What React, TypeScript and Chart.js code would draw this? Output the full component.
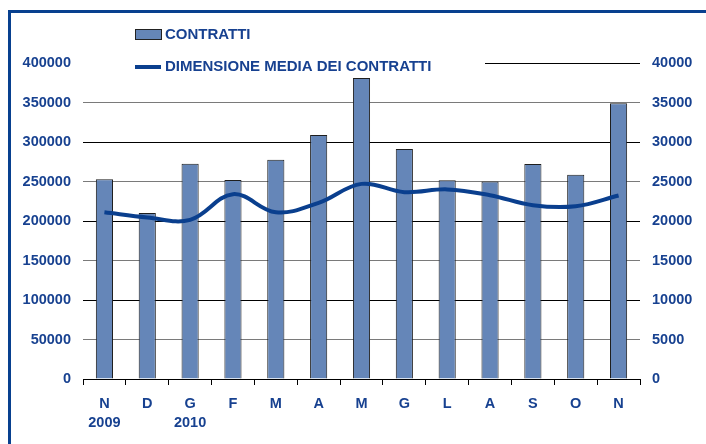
import React, { useEffect, useRef } from "react";
import { Chart, registerables } from "chart.js";

Chart.register(...registerables);

const categories: (string | string[])[] = [
  ["N", "2009"], "D", ["G", "2010"], "F", "M", "A", "M", "G", "L", "A", "S", "O", "N",
];
const contratti = [253000, 210000, 272500, 252000, 277500, 309000, 381000, 291000, 251500, 250000, 272000, 258500, 349000];
const dimensioneMedia = [21100, 20450, 20150, 23400, 21100, 22300, 24700, 23650, 24000, 23270, 22000, 21870, 23230];
const leftTicks = { min: 0, max: 400000, step: 50000 };
const rightTicks = { min: 0, max: 40000, step: 5000 };
const legendLabels = ["CONTRATTI", "DIMENSIONE MEDIA DEI CONTRATTI"];

const TEXT = "#174190";
const BAR = "#6586b8";
const LINE = "#0a3f8e";
const FONT = "'Liberation Sans', Arial, sans-serif";

export default function App() {
  const ref = useRef<HTMLCanvasElement | null>(null);

  useEffect(() => {
    if (!ref.current) return;

    const decor = {
      id: "decor",
      beforeDraw(chart: any) {
        const c = chart.ctx;
        c.save();
        c.fillStyle = "#fff";
        c.fillRect(0, 0, chart.width, chart.height);
        c.strokeStyle = "#08408f";
        c.lineWidth = 3;
        c.beginPath();
        c.moveTo(9.5, chart.height + 5);
        c.lineTo(9.5, 11.5);
        c.lineTo(chart.width + 5, 11.5);
        c.stroke();
        c.restore();
      },
      beforeDatasetsDraw(chart: any) {
        const c = chart.ctx;
        const a = chart.chartArea;
        c.save();
        c.fillStyle = "#fff";
        c.fillRect(a.left - 1, 56, 486 - a.left, 14);
        c.restore();
      },
      afterDraw(chart: any) {
        const c = chart.ctx;
        c.save();
        c.font = `bold 15px ${FONT}`;
        c.textBaseline = "middle";
        c.textAlign = "left";
        // bar item
        c.fillStyle = BAR;
        c.fillRect(135.5, 29.5, 26, 10);
        c.strokeStyle = "#222";
        c.lineWidth = 1;
        c.strokeRect(135.5, 29.5, 26, 10);
        c.fillStyle = TEXT;
        c.fillText(legendLabels[0], 165, 35);
        // line item
        c.strokeStyle = LINE;
        c.lineWidth = 4;
        c.beginPath();
        c.moveTo(135, 67);
        c.lineTo(161, 67);
        c.stroke();
        c.fillStyle = TEXT;
        c.fillText(legendLabels[1], 165, 67);
        c.restore();
      },
    };

    const chart = new Chart(ref.current, {
      type: "bar",
      data: {
        labels: categories as any,
        datasets: [
          {
            type: "line",
            label: legendLabels[1],
            data: dimensioneMedia,
            yAxisID: "y1",
            borderColor: LINE,
            borderWidth: 4,
            pointRadius: 0,
            tension: 0.38,
            fill: false,
            order: 0,
          } as any,
          {
            type: "bar",
            label: legendLabels[0],
            data: contratti,
            yAxisID: "y",
            backgroundColor: BAR,
            borderColor: "#1e1e1e",
            borderWidth: 1,
            barPercentage: 0.4,
            categoryPercentage: 1,
            order: 1,
          },
        ],
      },
      options: {
        responsive: false,
        animation: false,
        layout: { padding: { top: 63, bottom: 0, left: 0, right: 0 } },
        plugins: { legend: { display: false }, tooltip: { enabled: false } },
        scales: {
          x: {
            offset: true,
            grid: {
              display: true,
              drawOnChartArea: false,
              drawTicks: true,
              tickLength: 6,
              color: "#000",
              offset: true,
            },
            border: { display: true, color: "#000", width: 1 },
            ticks: {
              color: TEXT,
              font: { family: FONT, size: 14.5, weight: "bold", lineHeight: 1.35 },
              padding: 9,
              maxRotation: 0,
              autoSkip: false,
            },
            afterFit(scale: any) {
              scale.height = 65;
            },
          },
          y: {
            position: "left",
            min: leftTicks.min,
            max: leftTicks.max,
            border: { display: false },
            grid: {
              drawTicks: false,
              color: (ctx: any) => (ctx.tick && ctx.tick.value % 100000 === 0 ? "#000" : "#7a7a7a"),
              lineWidth: 1,
            },
            ticks: {
              stepSize: leftTicks.step,
              color: TEXT,
              font: { family: FONT, size: 14.5, weight: "bold" },
              padding: 12,
              callback: (v: any) => String(v),
            },
            afterFit(scale: any) {
              scale.width = 83;
            },
          },
          y1: {
            position: "right",
            min: rightTicks.min,
            max: rightTicks.max,
            border: { display: false },
            grid: { drawOnChartArea: false, drawTicks: false },
            ticks: {
              stepSize: rightTicks.step,
              color: TEXT,
              font: { family: FONT, size: 14.5, weight: "bold" },
              padding: 12,
              callback: (v: any) => String(v),
            },
            afterFit(scale: any) {
              scale.width = 66;
            },
          },
        },
      },
      plugins: [decor],
    });

    return () => chart.destroy();
  }, []);

  return (
    <canvas
      ref={ref}
      width={706}
      height={444}
      style={{ position: "fixed", left: 0, top: 0, width: 706, height: 444, display: "block" }}
    />
  );
}
